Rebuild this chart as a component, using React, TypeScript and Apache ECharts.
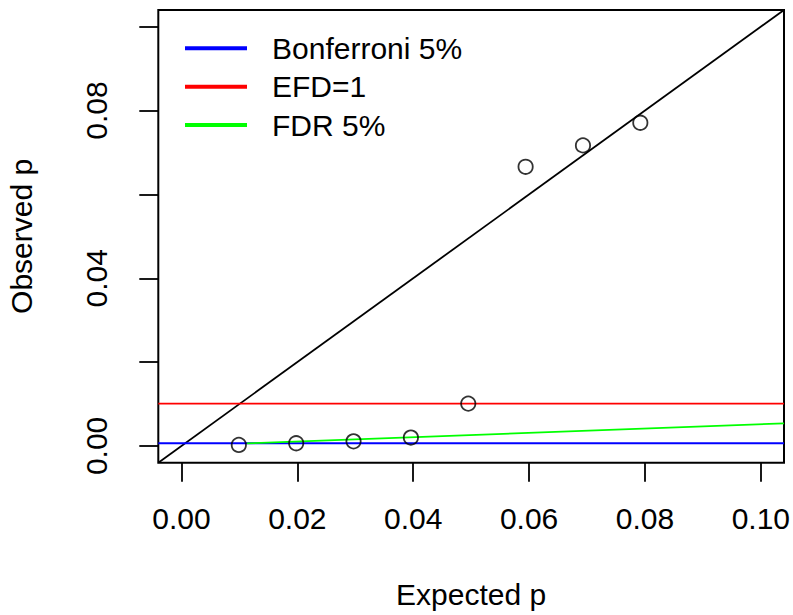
import React, { useEffect, useRef } from "react";
import * as echarts from "echarts";

const expectedP = [0.0099, 0.0198, 0.0297, 0.0396, 0.0495, 0.0594, 0.0693, 0.0792];
const observedP = [0.00024, 0.00064, 0.0011, 0.002, 0.0101, 0.0666, 0.0717, 0.0771];
const tickValues = [0, 0.02, 0.04, 0.06, 0.08, 0.1];
const xLabelValues = [0, 0.02, 0.04, 0.06, 0.08, 0.1];
const yLabelValues = [0, 0.04, 0.08];
const axisMin = -0.004;
const axisMax = 0.104;
const bonferroni = 0.00064;
const efd1 = 0.0101;
const fdrLine = [
  [0.0113, 0.0006],
  [0.104, 0.0054],
];
const diagonal = [
  [axisMin, axisMin],
  [axisMax, axisMax],
];

const FONT = "'Liberation Sans', Arial, Helvetica, sans-serif";

export default function App() {
  const ref = useRef<HTMLDivElement>(null);
  useEffect(() => {
    if (!ref.current) return;
    const chart = echarts.init(ref.current, null, { renderer: "svg" });
    const axisCommon = {
      type: "value",
      min: axisMin,
      max: axisMax,
      splitLine: { show: false },
      axisLine: { show: false, onZero: false },
      axisTick: {
        show: true,
        inside: false,
        length: 19,
        customValues: tickValues,
        lineStyle: { color: "#000", width: 1.8 },
      },
      nameLocation: "middle",
      nameTextStyle: { fontFamily: FONT, fontSize: 30, color: "#000" },
    };
    chart.setOption({
      animation: false,
      backgroundColor: "#fff",
      grid: {
        left: 158.3,
        right: 9,
        top: 10,
        bottom: 152.3,
        show: true,
        borderColor: "#000",
        borderWidth: 2,
        backgroundColor: "transparent",
        containLabel: false,
        outerBoundsMode: "none",
      },
      legend: {
        orient: "vertical",
        left: 185,
        top: 33.3,
        padding: 0,
        itemGap: 8.4,
        itemWidth: 62,
        itemHeight: 4,
        icon: "rect",
        data: ["Bonferroni 5%", "EFD=1", "FDR 5%"],
        textStyle: {
          fontFamily: FONT,
          fontSize: 30,
          color: "#000",
          lineHeight: 30,
          padding: [0, 0, 0, 20],
        },
      },
      xAxis: {
        ...axisCommon,
        name: "Expected p",
        nameGap: 117,
        axisLabel: {
          customValues: xLabelValues,
          formatter: (v: number) => v.toFixed(2),
          fontFamily: FONT,
          fontSize: 30,
          color: "#000",
          margin: 41,
        },
      },
      yAxis: {
        ...axisCommon,
        name: "Observed p",
        nameGap: 122,
        axisLabel: {
          customValues: yLabelValues,
          formatter: (v: number) => v.toFixed(2),
          fontFamily: FONT,
          fontSize: 30,
          color: "#000",
          rotate: 90,
          margin: 47,
        },
      },
      series: [
        {
          type: "line",
          name: "y=x",
          data: diagonal,
          symbol: "none",
          clip: true,
          lineStyle: { color: "#000", width: 1.8 },
          silent: true,
        },
        {
          type: "line",
          name: "Bonferroni 5%",
          data: [
            [axisMin, bonferroni],
            [axisMax, bonferroni],
          ],
          symbol: "none",
          color: "#0000FF",
          lineStyle: { color: "#0000FF", width: 1.8 },
        },
        {
          type: "line",
          name: "EFD=1",
          data: [
            [axisMin, efd1],
            [axisMax, efd1],
          ],
          symbol: "none",
          color: "#FF0000",
          lineStyle: { color: "#FF0000", width: 1.8 },
        },
        {
          type: "line",
          name: "FDR 5%",
          data: fdrLine,
          symbol: "none",
          color: "#00FF00",
          lineStyle: { color: "#00FF00", width: 1.8 },
        },
        {
          type: "scatter",
          name: "points",
          data: expectedP.map((x, i) => [x, observedP[i]]),
          symbol: "circle",
          symbolSize: 14.3,
          itemStyle: { color: "rgba(0,0,0,0)", borderColor: "#000", borderWidth: 1.8 },
          z: 5,
        },
      ],
    });
    return () => chart.dispose();
  }, []);
  return (
    <div
      ref={ref}
      style={{ position: "absolute", left: 0, top: 0, width: 793, height: 615 }}
    />
  );
}
